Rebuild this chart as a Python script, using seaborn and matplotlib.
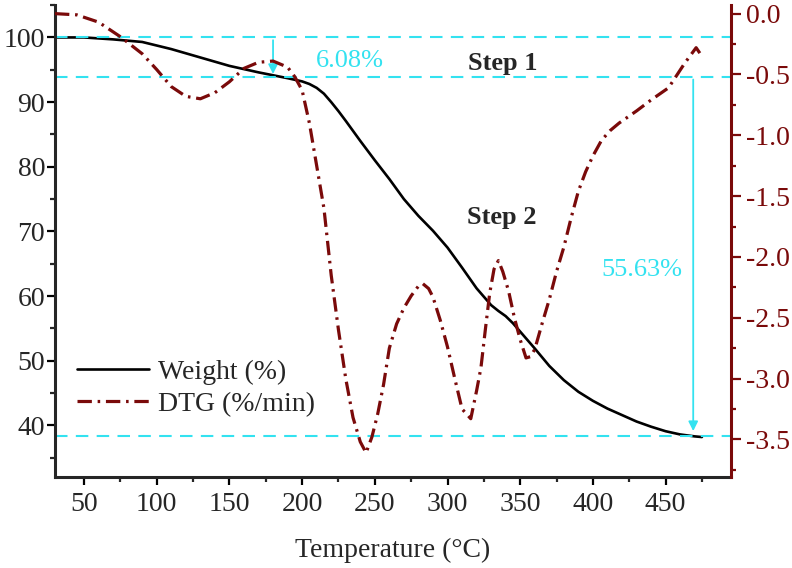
import numpy as np
import pandas as pd
import seaborn as sns
import matplotlib.pyplot as plt
from matplotlib.ticker import MultipleLocator

# weight loss curve (TGA)
temp_w = [30, 50, 70, 90, 110, 130, 150, 170, 190, 200, 205, 210, 215, 220, 225,
          230, 240, 250, 260, 270, 280, 290, 300, 310, 320, 330, 335, 340, 345,
          350, 355, 360, 370, 380, 390, 400, 410, 420, 430, 440, 450, 460, 470, 475]
weight = [100, 100, 99.7, 99.3, 98.2, 96.9, 95.6, 94.6, 93.7, 93.2, 92.8, 92.2,
          91.3, 90.0, 88.6, 87.1, 84.0, 81.0, 78.1, 75.0, 72.4, 70.1, 67.5, 64.4,
          61.2, 58.6, 57.7, 56.9, 55.8, 54.5, 53.2, 51.9, 49.2, 47.0, 45.2, 43.8,
          42.6, 41.6, 40.6, 39.8, 39.1, 38.6, 38.3, 38.2]

# derivative curve (DTG)
temp_d = [30, 45, 60, 75, 90, 100, 110, 120, 130, 140, 150, 160, 170, 180, 190,
          195, 200, 205, 210, 215, 220, 225, 230, 235, 240, 244, 248, 252, 256,
          260, 265, 270, 275, 280, 283, 287, 290, 295, 300, 305, 310, 316, 320,
          323, 326, 329, 332, 335, 338, 342, 346, 350, 354, 357, 360, 365, 370,
          375, 380, 385, 390, 395, 400, 406, 412, 418, 430, 440, 452, 463, 471, 475]
dtg = [0.0, -0.01, -0.07, -0.19, -0.33, -0.46, -0.60, -0.68, -0.70, -0.65, -0.56,
       -0.45, -0.40, -0.39, -0.44, -0.52, -0.63, -0.90, -1.25, -1.60, -2.15, -2.60,
       -3.00, -3.32, -3.52, -3.61, -3.48, -3.29, -3.05, -2.75, -2.55, -2.42, -2.32,
       -2.24, -2.22, -2.26, -2.33, -2.52, -2.74, -3.00, -3.25, -3.33, -3.10, -2.91,
       -2.60, -2.30, -2.10, -2.03, -2.12, -2.28, -2.50, -2.68, -2.83, -2.82, -2.76,
       -2.55, -2.35, -2.12, -1.92, -1.68, -1.46, -1.30, -1.17, -1.04, -0.96, -0.90,
       -0.80, -0.71, -0.61, -0.41, -0.28, -0.35]

steps = [100, 93.92, 38.29]
labels = ['Weight (%)', 'DTG (%/min)']

cyan = '#33e2f0'
red = '#7a0a0a'

sns.set_style("ticks")
plt.rcParams['font.family'] = ['Liberation Serif', 'DejaVu Serif']
plt.rcParams['axes.unicode_minus'] = False

fig = plt.figure(figsize=(7.92, 5.68), dpi=100)
ax = fig.add_axes([0.0694, 0.160, 0.8536, 0.831])

sns.lineplot(x=temp_w, y=weight, ax=ax, color='black', lw=1.9, legend=False)
ax2 = ax.twinx()
sns.lineplot(x=temp_d, y=dtg, ax=ax2, color=red, lw=2.3, legend=False,
             linestyle=(0, (4.5, 1.8, 0.8, 1.8)))

h1 = ax.get_lines()[0]
h2 = ax2.get_lines()[0]

for s in steps:
    ax.axhline(s, color=cyan, lw=1.5, ls=(0, (6, 4)))

ax.annotate('', xy=(180, steps[1]), xytext=(180, steps[0]),
            arrowprops=dict(arrowstyle='-|>', color=cyan, lw=1.3, mutation_scale=14))
ax.annotate('', xy=(469, steps[2] + 0.4), xytext=(469, steps[1]),
            arrowprops=dict(arrowstyle='-|>', color=cyan, lw=1.3, mutation_scale=14))

ax.text(233, 96.3, '6.08%', color=cyan, fontsize=19, ha='center', va='center')
ax.text(434, 64.1, '55.63%', color=cyan, fontsize=19, ha='center', va='center')
ax.text(338, 96.0, 'Step 1', fontsize=19, fontweight='bold', ha='center', va='center')
ax.text(337, 72.2, 'Step 2', fontsize=19, fontweight='bold', ha='center', va='center')

ax.set_xlim(30, 495)
ax.set_ylim(32, 105)
ax2.set_ylim(-3.81, 0.07)

ax.xaxis.set_major_locator(MultipleLocator(50))
ax.xaxis.set_minor_locator(MultipleLocator(25))
ax.yaxis.set_major_locator(MultipleLocator(10))
ax.yaxis.set_minor_locator(MultipleLocator(5))
ax2.yaxis.set_major_locator(MultipleLocator(0.5))
ax2.yaxis.set_minor_locator(MultipleLocator(0.25))
ax2.yaxis.set_major_formatter(plt.FormatStrFormatter('%.1f'))

ax.tick_params(axis='both', which='major', direction='out', length=6, width=1.6,
               labelsize=20, color='black')
ax.tick_params(axis='both', which='minor', direction='out', length=3.5, width=1.6)
ax.tick_params(axis='y', pad=1)
ax.tick_params(axis='x', pad=5)
ax2.tick_params(axis='y', which='major', direction='out', length=7, width=1.6,
                labelsize=20, colors=red, pad=4)
ax2.tick_params(axis='y', which='minor', direction='out', length=3.5, width=1.6,
                colors=red)

for a in (ax, ax2):
    a.spines['top'].set_visible(False)
ax.spines['right'].set_visible(False)
ax2.spines['left'].set_visible(False)
ax2.spines['bottom'].set_visible(False)
ax.spines['left'].set_linewidth(2.2)
ax.spines['bottom'].set_linewidth(2.2)
ax2.spines['right'].set_linewidth(2.2)
ax2.spines['right'].set_color(red)

ax.set_xlabel('Temperature (°C)', fontsize=20, labelpad=15)
ax.set_ylabel('')
ax2.set_ylabel('')

ax.legend([h1, h2], labels, loc='upper left', bbox_to_anchor=(0.033, 0.25),
          frameon=False, fontsize=20, handlelength=2.6, handletextpad=0.3,
          labelspacing=0.25, borderpad=0, borderaxespad=0)

fig.savefig('out.png', dpi=100)
